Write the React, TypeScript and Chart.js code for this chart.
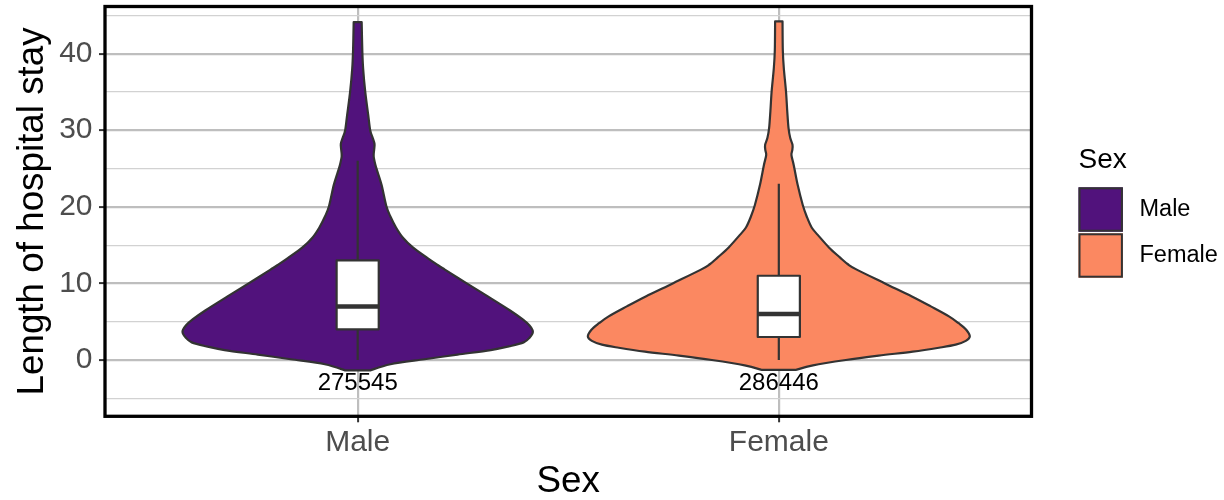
import React, { useEffect, useRef } from 'react';
import { Chart, registerables } from 'chart.js';

Chart.register(...registerables);

// ---------- data ----------
const CATEGORIES = ['Male', 'Female'];
const FILL_COLORS = ['#51127C', '#FB8861'];
const COUNTS = [275545, 286446];
const WHISKER_LOW = [0, 0];
const Q1 = [4, 3];
const MEDIAN = [7, 6];
const Q3 = [13, 11];
const WHISKER_HIGH = [26, 23];
const COUNT_LABEL_Y = [-3, -3];

const MALE_Y = [-1.35, -0.55, 0.1, 0.7, 1.3, 1.8, 2.3, 2.9, 3.7, 4.5, 5.3, 6.5, 8.3, 10.0, 11.8, 12.4, 13.3, 14.7, 16.0, 17.3, 18.7, 20.1, 22.8, 24.5, 25.5, 26.6, 27.4, 28.2, 29.0, 30.0, 32.0, 35.1, 38.0, 40.4, 44.1];
const MALE_HALF = [0.030, 0.078, 0.159, 0.237, 0.316, 0.361, 0.394, 0.408, 0.416, 0.408, 0.392, 0.361, 0.309, 0.259, 0.207, 0.190, 0.166, 0.131, 0.107, 0.091, 0.078, 0.068, 0.057, 0.0475, 0.042, 0.038, 0.039, 0.040, 0.0356, 0.0297, 0.025, 0.0178, 0.013, 0.011, 0.0095];
const FEMALE_Y = [-1.3, -0.7, 0.0, 0.57, 1.09, 1.6, 2.0, 2.5, 3.07, 3.95, 4.8, 5.7, 7.0, 8.3, 10.0, 11.8, 12.5, 13.4, 14.7, 16.3, 17.3, 18.7, 20.2, 22.8, 25.4, 26.75, 27.4, 28.1, 29.0, 30.3, 32.5, 35.1, 38.0, 40.4, 44.2];
const FEMALE_HALF = [0.040, 0.081, 0.159, 0.237, 0.318, 0.380, 0.420, 0.444, 0.4535, 0.445, 0.427, 0.404, 0.361, 0.316, 0.252, 0.185, 0.164, 0.145, 0.119, 0.093, 0.078, 0.0665, 0.057, 0.045, 0.0356, 0.030, 0.032, 0.0325, 0.027, 0.023, 0.020, 0.017, 0.012, 0.0095, 0.0088];
const VIOLIN_Y = [MALE_Y, FEMALE_Y];
const VIOLIN_HALF = [MALE_HALF, FEMALE_HALF];

const Y_MAJOR_TICKS = [0, 10, 20, 30, 40];
const Y_MINOR_TICKS = [-5, 5, 15, 25, 35, 45];
const Y_MIN = -7.35;
const Y_MAX = 46.15;
const X_MIN = 0.4;
const X_MAX = 2.6;

const X_TITLE = 'Sex';
const Y_TITLE = 'Length of hospital stay';
const LEGEND_TITLE = 'Sex';

// ---------- style ----------
const FONT = "'Liberation Sans', Arial, Helvetica, sans-serif";
const OUTLINE = '#333333';
const BOX_WIDTH = 0.1;

type P = { x: number; y: number };

function splineThrough(ctx: CanvasRenderingContext2D, pts: P[]) {
  const t = 1 / 6;
  for (let i = 0; i < pts.length - 1; i++) {
    const p0 = pts[i - 1] || pts[i];
    const p1 = pts[i];
    const p2 = pts[i + 1];
    const p3 = pts[i + 2] || p2;
    ctx.bezierCurveTo(
      p1.x + (p2.x - p0.x) * t, p1.y + (p2.y - p0.y) * t,
      p2.x - (p3.x - p1.x) * t, p2.y - (p3.y - p1.y) * t,
      p2.x, p2.y
    );
  }
}

const violinPlugin = {
  id: 'violinBox',
  beforeDatasetsDraw(chart: any) {
    const { ctx } = chart;
    const xs = chart.scales.x;
    const ys = chart.scales.y;
    const area = chart.chartArea;
    ctx.save();
    ctx.beginPath();
    ctx.rect(area.left, area.top, area.right - area.left, area.bottom - area.top);
    ctx.clip();
    CATEGORIES.forEach((_, i) => {
      const c = i + 1;
      const vy = VIOLIN_Y[i];
      const vh = VIOLIN_HALF[i];
      const right: P[] = vy.map((v, k) => ({ x: xs.getPixelForValue(c + vh[k]), y: ys.getPixelForValue(v) }));
      const left: P[] = vy.map((v, k) => ({ x: xs.getPixelForValue(c - vh[k]), y: ys.getPixelForValue(v) })).reverse();
      ctx.beginPath();
      ctx.moveTo(right[0].x, right[0].y);
      splineThrough(ctx, right);
      ctx.lineTo(left[0].x, left[0].y);
      splineThrough(ctx, left);
      ctx.closePath();
      ctx.fillStyle = FILL_COLORS[i];
      ctx.fill();
      ctx.lineWidth = 2.2;
      ctx.strokeStyle = OUTLINE;
      ctx.lineJoin = 'round';
      ctx.stroke();

      // box plot
      const cx = xs.getPixelForValue(c);
      const bl = xs.getPixelForValue(c - BOX_WIDTH / 2);
      const br = xs.getPixelForValue(c + BOX_WIDTH / 2);
      const yq1 = ys.getPixelForValue(Q1[i]);
      const yq3 = ys.getPixelForValue(Q3[i]);
      const ymed = ys.getPixelForValue(MEDIAN[i]);
      ctx.lineWidth = 2.2;
      ctx.strokeStyle = OUTLINE;
      ctx.lineCap = 'butt';
      ctx.beginPath();
      ctx.moveTo(cx, ys.getPixelForValue(WHISKER_LOW[i]));
      ctx.lineTo(cx, yq1);
      ctx.moveTo(cx, yq3);
      ctx.lineTo(cx, ys.getPixelForValue(WHISKER_HIGH[i]));
      ctx.stroke();
      ctx.fillStyle = '#ffffff';
      ctx.fillRect(bl, yq3, br - bl, yq1 - yq3);
      ctx.strokeRect(bl, yq3, br - bl, yq1 - yq3);
      ctx.lineWidth = 4.5;
      ctx.beginPath();
      ctx.moveTo(bl, ymed);
      ctx.lineTo(br, ymed);
      ctx.stroke();

      // count label
      ctx.fillStyle = '#000000';
      ctx.font = `24px ${FONT}`;
      ctx.textAlign = 'center';
      ctx.textBaseline = 'middle';
      ctx.fillText(String(COUNTS[i]), cx, ys.getPixelForValue(COUNT_LABEL_Y[i]));
    });
    ctx.restore();
  },
  afterDraw(chart: any) {
    const { ctx } = chart;
    const a = chart.chartArea;
    ctx.save();
    // panel border
    ctx.strokeStyle = '#000000';
    ctx.lineWidth = 3.3;
    ctx.strokeRect(a.left, a.top, a.right - a.left, a.bottom - a.top);

    // legend
    const lx = a.right + 47;
    ctx.fillStyle = '#000000';
    ctx.font = `28px ${FONT}`;
    ctx.textAlign = 'left';
    ctx.textBaseline = 'middle';
    ctx.fillText(LEGEND_TITLE, lx, 160);
    const key = 44.4;
    CATEGORIES.forEach((name, i) => {
      const ky = 187.3 + i * (key + 1.6);
      ctx.fillStyle = FILL_COLORS[i];
      ctx.fillRect(lx, ky, key, key);
      ctx.strokeStyle = OUTLINE;
      ctx.lineWidth = 2;
      ctx.strokeRect(lx + 1, ky + 1, key - 2, key - 2);
      ctx.fillStyle = '#000000';
      ctx.font = `23.5px ${FONT}`;
      ctx.fillText(name, lx + 61, ky + key / 2);
    });
    ctx.restore();
  },
};

const isMajor = (c: any) => c && c.tick && Y_MAJOR_TICKS.includes(c.tick.value);

export default function App() {
  const canvasRef = useRef<HTMLCanvasElement | null>(null);

  useEffect(() => {
    if (!canvasRef.current) return;
    const chart = new Chart(canvasRef.current, {
      type: 'scatter',
      data: { datasets: [] },
      options: {
        animation: false,
        responsive: true,
        maintainAspectRatio: false,
        layout: { padding: { left: 0, top: 6.5, right: 192.5, bottom: 0 } },
        plugins: { legend: { display: false }, tooltip: { enabled: false } },
        scales: {
          x: {
            type: 'linear',
            min: X_MIN,
            max: X_MAX,
            afterBuildTicks: (s: any) => {
              s.ticks = CATEGORIES.map((_, i) => ({ value: i + 1 }));
            },
            afterFit: (s: any) => {
              s.height = 83.7;
              s.paddingLeft = 0;
              s.paddingRight = 0;
            },
            ticks: {
              autoSkip: false,
              maxRotation: 0,
              padding: 2,
              color: '#4D4D4D',
              font: { family: FONT, size: 30 },
              callback: (_v: any, idx: number) => CATEGORIES[idx],
            },
            grid: {
              color: '#BEBEBE',
              lineWidth: 2.2,
              tickLength: 6,
              tickColor: OUTLINE,
              tickWidth: 2,
            },
            border: { display: false },
            title: {
              display: true,
              text: X_TITLE,
              color: '#000000',
              font: { family: FONT, size: 36.8, lineHeight: 1 },
              padding: { top: 0, bottom: 0 },
            },
          },
          y: {
            type: 'linear',
            min: Y_MIN,
            max: Y_MAX,
            afterBuildTicks: (s: any) => {
              s.ticks = [...Y_MINOR_TICKS, ...Y_MAJOR_TICKS].sort((a, b) => a - b).map((v) => ({ value: v }));
            },
            afterFit: (s: any) => {
              s.width = 105;
              s.paddingTop = 0;
              s.paddingBottom = 0;
            },
            ticks: {
              autoSkip: false,
              padding: 6.5,
              color: '#4D4D4D',
              font: { family: FONT, size: 30 },
              callback: (v: any) => (Y_MAJOR_TICKS.includes(v) ? String(v) : ''),
            },
            grid: {
              color: (c: any) => (isMajor(c) ? '#BEBEBE' : '#D2D2D2'),
              lineWidth: (c: any) => (isMajor(c) ? 2.2 : 1.2),
              tickLength: 6,
              tickColor: (c: any) => (isMajor(c) ? OUTLINE : 'rgba(0,0,0,0)'),
              tickWidth: 2,
            },
            border: { display: false },
            title: {
              display: true,
              text: Y_TITLE,
              color: '#000000',
              font: { family: FONT, size: 36.8, lineHeight: 1 },
              padding: { top: 14.6, bottom: 0 },
            },
          },
        },
      } as any,
      plugins: [violinPlugin],
    });
    return () => chart.destroy();
  }, []);

  return (
    <div style={{ position: 'fixed', left: 0, top: 0, width: 1224, height: 500, background: '#ffffff' }}>
      <canvas ref={canvasRef} />
    </div>
  );
}
